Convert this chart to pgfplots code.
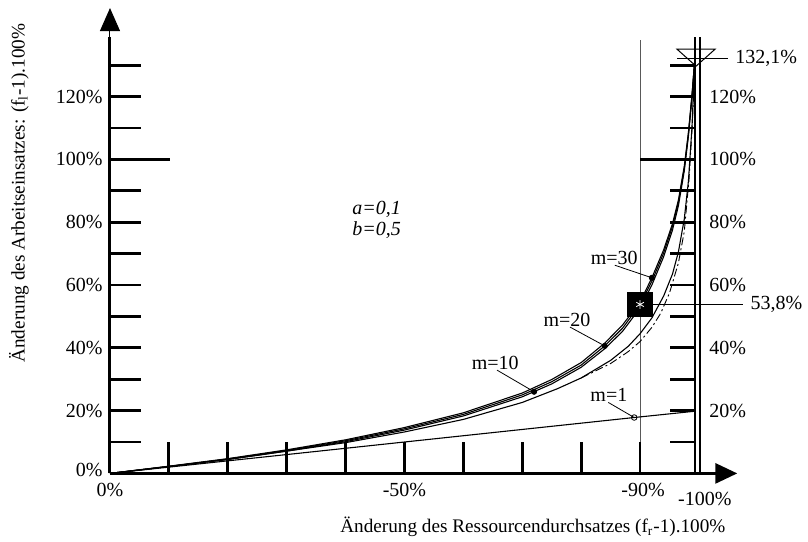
\documentclass[border=0pt]{standalone}
\usepackage{fontspec}
\setmainfont{Liberation Serif}
\usepackage{pgfplots}
\pgfplotsset{compat=1.18}
\usetikzlibrary{arrows.meta}

\begin{document}
\begin{tikzpicture}
\begin{axis}[
  x=2.945pt, y=1.57pt,
  x dir=reverse,
  xmin=-107, xmax=0, ymin=0, ymax=148,
  hide axis, clip=false,
  crv/.style={black, line width=0.55pt, mark=none},
]
\coordinate (O) at (axis cs:0,0);

% helper lines: -90% line, right double line
\draw[line width=0.4pt, black!65] (axis cs:-90,0) -- (axis cs:-90,138);
\draw[line width=1pt] (axis cs:-99.3,0) -- (axis cs:-99.3,139);
\draw[line width=1pt] (axis cs:-100.1,0) -- (axis cs:-100.1,139);

% ticks
\pgfplotsinvokeforeach{10,20,...,130}{
  \draw[line width=1.4pt] (axis cs:0,#1) -- (axis cs:-5.2,#1);
  \draw[line width=1.4pt] (axis cs:-95.1,#1) -- (axis cs:-99.3,#1);
}
\draw[line width=1.4pt] (axis cs:0,100) -- (axis cs:-10.2,100);
\draw[line width=1.4pt] (axis cs:-90,100) -- (axis cs:-99.3,100);
\pgfplotsinvokeforeach{-10,-20,...,-90}{
  \draw[line width=1.4pt] (axis cs:#1,0) -- (axis cs:#1,9.9);
}

% axes
\draw[line width=1.5pt] (axis cs:0,0) -- (axis cs:0,139);
\draw[line width=0.5pt, -{Triangle[length=11.5pt,width=10pt]}] (axis cs:0,134) -- (axis cs:0,148.2);
\draw[line width=1.5pt, -{Triangle[length=11pt,width=10pt]}] (axis cs:0,0) -- (axis cs:-106.5,0);

% tick labels
\pgfplotsinvokeforeach{20,40,...,120}{
  \node[anchor=east, inner sep=0pt] at (axis cs:1.2,#1) {#1\%};
}
\node[anchor=east, inner sep=0pt] at (axis cs:1.2,1.2) {0\%};
\pgfplotsinvokeforeach{20,40,...,120}{
  \node[anchor=west, inner sep=0pt] at (axis cs:-101.7,#1) {#1\%};
}
\node[inner sep=0pt] at (axis cs:0,-5.3) {0\%};
\node[inner sep=0pt] at (axis cs:-50,-5.3) {-50\%};
\node[inner sep=0pt] at (axis cs:-90.5,-5.3) {-90\%};
\node[inner sep=0pt] at (axis cs:-101,-8) {-100\%};

% axis titles
\node[rotate=90, inner sep=0pt, font=\fontsize{9.6}{11}\selectfont] at (axis cs:15.45,89.3)
  {Änderung des Arbeitseinsatzes: (f\textsubscript{l}-1).100\%};
\node[inner sep=0pt, font=\fontsize{9.6}{11}\selectfont] at (axis cs:-71.8,-17.1)
  {Änderung des Ressourcendurchsatzes (f\textsubscript{r}-1).100\%};

% m = 1
\addplot[crv] coordinates {(0,0) (-89,17.8) (-99.3,19.8)};

% bundle m = 10, 20, 30
\addplot[crv] coordinates {
  (0,0) (-10,2.2) (-20,4.5) (-30,7.1) (-40,10.1) (-50,13.8) (-60,18.3)
  (-70,24.4) (-75,28.5) (-80,33.8) (-84,39.7) (-87,45.2) (-90,52.7)
  (-92,60.0) (-94,69.0) (-95.5,77.5) (-96.5,85.2) (-97.5,96.3)
  (-98.2,107.3) (-98.8,119.5) (-99.3,132.1)};
\addplot[crv] coordinates {
  (0,0) (-10,2.2) (-20,4.6) (-30,7.3) (-40,10.4) (-50,14.2) (-60,18.8)
  (-70,25.0) (-75,29.2) (-80,34.5) (-84,40.6) (-87,46.2) (-90,53.8)
  (-92,61.2) (-94,70.2) (-95.5,78.7) (-96.5,86.3) (-97.5,97.2)
  (-98.2,108.0) (-98.8,120.0) (-99.3,132.1)};
\addplot[crv] coordinates {
  (0,0) (-10,2.3) (-20,4.7) (-30,7.5) (-40,10.7) (-50,14.6) (-60,19.3)
  (-70,25.6) (-75,29.9) (-80,35.3) (-84,41.5) (-87,47.2) (-90,54.6)
  (-92,62.3) (-94,71.2) (-95.5,79.5) (-96.5,87.0) (-97.5,97.8)
  (-98.2,108.5) (-98.8,120.3) (-99.3,132.1)};

% lower curve
\addplot[crv] coordinates {
  (0,0) (-20,4.4) (-40,9.8) (-50,13.2) (-60,17.2) (-70,22.6) (-76,27.0)
  (-80,30.4) (-85,36.0) (-88,40.5) (-90,44.5) (-92,49.5) (-94,56.5)
  (-95.5,63.5) (-96.5,70.5) (-97.5,81.0) (-98.2,93.0) (-98.8,110.0)
  (-99.3,132.1)};

% dash-dotted curve
\addplot[crv, line width=0.45pt, dash pattern=on 4pt off 1.5pt on 1pt off 1.5pt] coordinates {
  (-80,30.4) (-85,35.0) (-88,38.8) (-90,42.0) (-92,46.5) (-93.5,51.0)
  (-95,57.5) (-96.5,67.0) (-97.5,77.0) (-98.3,93.5) (-98.9,112.0)
  (-99.3,132.1)};

% markers on the curves
\addplot[black, only marks, mark=*, mark size=1.3pt] coordinates {(-72,26.0) (-84,40.6) (-92,62.3)};
\addplot[black, only marks, mark=o, mark size=1.4pt, mark options={fill=white}] coordinates {(-89,17.8)};

% 53,8 % point
\draw[line width=0.6pt] (axis cs:-90,53.8) -- (axis cs:-107.5,53.8);
\addplot[black, only marks, mark=square*, mark size=6.2pt] coordinates {(-90,53.8)};
\addplot[white, only marks, mark=asterisk, mark size=2.2pt, line width=0.4pt] coordinates {(-90,53.8)};
\node[anchor=west, inner sep=0pt] at (axis cs:-108.7,53.8) {53,8\%};

% 132,1 % point
\draw[line width=0.6pt] (axis cs:-96.3,132.1) -- (axis cs:-104.9,132.1);
\addplot[black, only marks, mark=triangle, mark size=5.67pt, line width=0.5pt,
  mark options={rotate=180, xscale=1.94}] coordinates {(-99.5,133.3)};
\node[anchor=west, inner sep=0pt] at (axis cs:-106.1,132.1) {132,1\%};

% curve labels
\draw[line width=0.4pt] (axis cs:-85.7,66.3) -- (axis cs:-92,62.3);
\node[inner sep=0pt] at (axis cs:-85.6,68.6) {m=30};
\draw[line width=0.4pt] (axis cs:-78.1,46.6) -- (axis cs:-84,40.6);
\node[inner sep=0pt] at (axis cs:-77.6,48.8) {m=20};
\draw[line width=0.4pt] (axis cs:-65.7,32.9) -- (axis cs:-72,26.0);
\node[inner sep=0pt] at (axis cs:-65.4,35.1) {m=10};
\draw[line width=0.4pt] (axis cs:-84.6,22.6) -- (axis cs:-89,17.8);
\node[inner sep=0pt] at (axis cs:-84.7,24.9) {m=1};

\node[anchor=west, inner sep=0pt] at (axis cs:-41.1,84.2) {\textit{a=0,1}};
\node[anchor=west, inner sep=0pt] at (axis cs:-41.1,77.5) {\textit{b=0,5}};
\end{axis}
\pgfresetboundingbox
\path ([shift={(-55pt,-33.8pt)}]O) rectangle ([shift={(349pt,236.7pt)}]O);
\end{tikzpicture}
\end{document}
